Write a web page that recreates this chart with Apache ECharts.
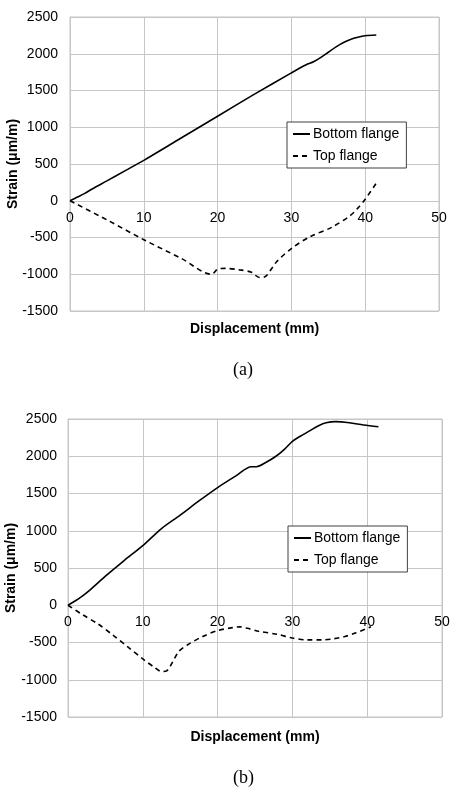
<!DOCTYPE html>
<html>
<head>
<meta charset="utf-8">
<script src="https://cdn.jsdelivr.net/npm/echarts@6/dist/echarts.min.js"></script>
<style>
  html, body { margin: 0; padding: 0; background: #fff; }
</style>
</head>
<body>
<div id="chart" style="width: 456px; height: 794px;"></div>
<script>
  // (a) displacement (mm) vs strain (µm/m)
  const bottomA = [[0,0],[1,50],[2,100],[3,160],[5,270],[7.5,410],[10,550],[15,850],[20,1150],[25,1450],[30,1740],[32,1850],[33,1890],[34,1950],[35,2020],[36,2090],[37,2150],[38,2195],[39,2225],[40,2245],[41.5,2255]];
  const topA = [[0,0],[5,-260],[10,-530],[15,-780],[19.2,-1000],[20,-930],[21,-920],[23,-940],[24.5,-970],[25.7,-1045],[26.5,-1030],[28,-830],[30,-650],[32.5,-490],[35.5,-360],[38,-200],[39,-100],[40,20],[41.5,240]];

  // (b)
  const bottomB = [[0,0],[1,60],[2,130],[3,210],[5,390],[7.5,600],[10,800],[12.5,1030],[15,1210],[17.5,1400],[20,1580],[22.5,1740],[24.5,1860],[25.2,1860],[26.5,1920],[27.8,2000],[29,2100],[30,2200],[31,2265],[32.3,2340],[33.5,2410],[34.5,2450],[35.8,2465],[37.6,2450],[39.5,2420],[41.5,2395]];
  const topB = [[0,0],[2,-130],[4,-250],[6,-400],[8,-560],[10,-720],[11.5,-830],[12.5,-890],[13.2,-880],[14,-760],[14.8,-620],[16,-530],[18,-420],[20,-340],[22,-300],[23,-290],[24,-310],[25.5,-350],[28,-390],[30,-440],[32,-465],[34,-465],[35.5,-450],[37,-420],[38.5,-370],[40.5,-290]];

  const xTicks = { min: 0, max: 50, interval: 10 };
  const yTicks = { min: -1500, max: 2500, interval: 500 };
  const captions = ['(a)', '(b)'];

  const font = 'Liberation Sans, Arial, sans-serif';
  const gridColor = '#c6c6c6';

  const grids = [
    { left: 70, top: 17, width: 369, height: 294 },
    { left: 68, top: 419, width: 374, height: 298 }
  ];

  const chart = echarts.init(document.getElementById('chart'));

  // x axis sits on strain = 0, as in the original Excel plots
  function zeroOffset(g) {
    return -g.height * (0 - yTicks.min) / (yTicks.max - yTicks.min);
  }

  function xAxis(i, gap) {
    return {
      type: 'value', gridIndex: i,
      min: xTicks.min, max: xTicks.max, interval: xTicks.interval,
      offset: zeroOffset(grids[i]),
      name: 'Displacement (mm)', nameLocation: 'middle', nameGap: gap, nameMoveOverlap: false,
      nameTextStyle: { fontFamily: font, fontSize: 14, fontWeight: 'bold', color: '#000' },
      axisLine: { onZero: false, lineStyle: { color: gridColor } },
      axisTick: { show: false },
      axisLabel: { fontFamily: font, fontSize: 14, color: '#000', margin: 10, formatter: v => String(v) },
      splitLine: { lineStyle: { color: gridColor } }
    };
  }
  function yAxis(i, margin) {
    return {
      type: 'value', gridIndex: i,
      min: yTicks.min, max: yTicks.max, interval: yTicks.interval,
      name: 'Strain (μm/m)', nameLocation: 'middle', nameGap: 50, nameMoveOverlap: false,
      nameTextStyle: { fontFamily: font, fontSize: 14, fontWeight: 'bold', color: '#000' },
      axisLine: { show: true, onZero: false, lineStyle: { color: gridColor } },
      axisTick: { show: false },
      axisLabel: { fontFamily: font, fontSize: 14, color: '#000', margin: margin, formatter: v => String(v) },
      splitLine: { lineStyle: { color: gridColor } }
    };
  }
  function line(name, data, i, dashed) {
    return {
      name: name, type: 'line', data: data,
      xAxisIndex: i, yAxisIndex: i,
      symbol: 'none', showSymbol: false, smooth: 0.3,
      lineStyle: { color: '#000', width: 1.6, type: dashed ? [5, 4] : 'solid' },
      itemStyle: { color: '#000' }
    };
  }
  function legend(left, top) {
    return {
      left: left, top: top, orient: 'vertical',
      itemWidth: 17, itemHeight: 14, itemGap: 8, padding: [5, 7, 5, 5],
      borderColor: '#404040', borderWidth: 1, backgroundColor: '#fff',
      itemStyle: { opacity: 0 },
      textStyle: { fontFamily: font, fontSize: 14, color: '#000', padding: [0, 0, 0, -2] },
      data: ['Bottom flange', 'Top flange']
    };
  }

  const option = {
    animation: false,
    grid: grids.map(g => Object.assign({
      outerBoundsMode: 'none', containLabel: false,
      show: true, borderColor: gridColor, borderWidth: 1, backgroundColor: 'transparent'
    }, g)),
    xAxis: [xAxis(0, 121), xAxis(1, 125)],
    yAxis: [yAxis(0, 12), yAxis(1, 11)],
    legend: [legend(287, 122), legend(288, 526)],
    series: [
      line('Bottom flange', bottomA, 0, false),
      line('Top flange', topA, 0, true),
      line('Bottom flange', bottomB, 1, false),
      line('Top flange', topB, 1, true)
    ],
    graphic: [
      { type: 'text', left: 233, top: 361, style: { text: captions[0], font: '18px Liberation Serif, Times New Roman, serif', fill: '#000' } },
      { type: 'text', left: 233, top: 769, style: { text: captions[1], font: '18px Liberation Serif, Times New Roman, serif', fill: '#000' } }
    ]
  };

  chart.setOption(option);
</script>
</body>
</html>
